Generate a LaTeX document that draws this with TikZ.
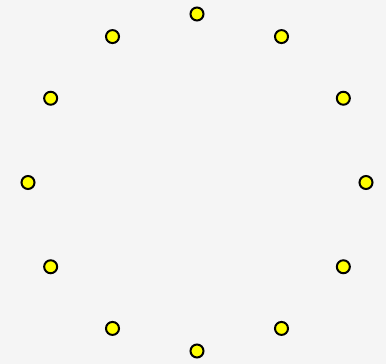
\documentclass[tikz,border=0pt]{standalone}
\definecolor{bg}{HTML}{F5F5F5}
\definecolor{dotyellow}{HTML}{FFFF00}
\begin{document}
\begin{tikzpicture}[x=1pt,y=-1pt,
  dot/.style={circle,draw=black,fill=dotyellow,line width=2pt,minimum size=13pt,inner sep=0pt}]
\fill[bg] (0,0) rectangle (386,364);
\useasboundingbox (0,0) rectangle (386,364);
\foreach \k in {0,...,11}{
  \node[dot] (n\k) at ({197+169*sin(30*\k)},{182.5-168.5*cos(30*\k)}) {};
}
\end{tikzpicture}
\end{document}
